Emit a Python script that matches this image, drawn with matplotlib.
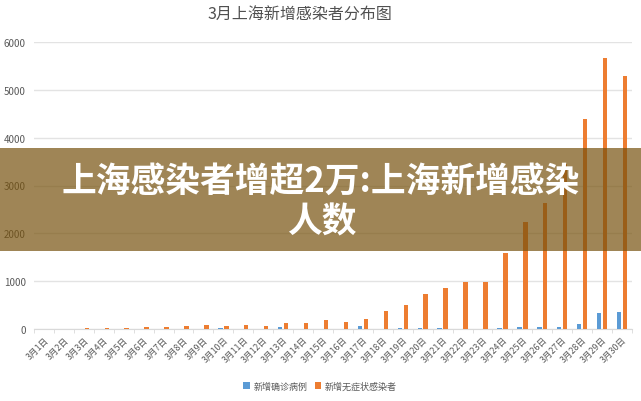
import matplotlib
matplotlib.use("Agg")
import matplotlib.pyplot as plt
from matplotlib.patches import Rectangle
import numpy as np

plt.rcParams['font.family'] = ['Noto Sans CJK SC', 'DejaVu Sans']

# data (3月1日 .. 3月30日)
days = ["3月%d日" % d for d in range(1, 31)]
confirmed = [1, 3, 2, 3, 0, 3, 4, 3, 4, 11, 5, 1, 41, 9, 5, 8, 57, 8, 17, 24,
             31, 4, 4, 29, 38, 45, 50, 96, 326, 355]
asymptomatic = [1, 5, 14, 16, 28, 45, 51, 62, 76, 64, 78, 64, 128, 130, 197, 150, 203, 366, 492, 734,
                865, 977, 979, 1580, 2231, 2631, 3450, 4381, 5656, 5298]
series_names = ["新增确诊病例", "新增无症状感染者"]
title = "3月上海新增感染者分布图"
banner_lines = ["上海感染者增超2万:上海新增感染", "人数"]

BLUE = "#5B9BD5"
ORANGE = "#ED7D31"
GREY = "#595959"

W, H = 641, 402
fig = plt.figure(figsize=(W / 100, H / 100), dpi=100)
ax = fig.add_axes([34 / W, 1 - 330 / H, (632 - 34) / W, (330 - 43) / H])

x = np.arange(len(days))
bw = 0.22
ax.bar(x - 0.15, confirmed, bw, color=BLUE, label=series_names[0], zorder=3)
ax.bar(x + 0.15, asymptomatic, bw, color=ORANGE, label=series_names[1], zorder=3)

ax.set_xlim(-0.5, len(days) - 0.5)
ax.set_ylim(0, 6000)
ax.set_yticks(range(0, 6001, 1000))
ax.yaxis.grid(True, color="#E3E3E3", linewidth=1, zorder=0)
ax.tick_params(axis='y', length=0, labelsize=7, labelcolor=GREY, pad=6)

ax.set_xticks(x)
ax.set_xticklabels(days, rotation=45, ha='right', va='top', rotation_mode='anchor',
                   fontsize=6.3, color=GREY)
ax.tick_params(axis='x', which='major', length=0, pad=4)
ax.set_xticks(np.arange(-0.5, len(days), 1), minor=True)
ax.tick_params(axis='x', which='minor', length=3, color="#D9D9D9")

for s in ['top', 'right', 'left']:
    ax.spines[s].set_visible(False)
ax.spines['bottom'].set_color("#D9D9D9")

fig.text(300 / W, 1 - 15 / H, title, ha='center', va='center', fontsize=11.5,
         fontweight='medium', color="#505050")

fig.legend(loc='center', bbox_to_anchor=(320 / W, 1 - 387 / H), ncol=2, frameon=False,
           fontsize=6.5, labelcolor=GREY, handlelength=0.7, handleheight=0.7,
           handletextpad=0.4, columnspacing=0.8)

# overlay banner
fig.patches.append(Rectangle((0, 1 - 252 / H), 1, 103 / H, transform=fig.transFigure,
                             facecolor="#77520E", alpha=0.7, zorder=10))
fig.text(321 / W, 1 - 181 / H, banner_lines[0], ha='center', va='center', fontsize=25,
         fontweight='black', color='white', zorder=11)
fig.text(322 / W, 1 - 222 / H, banner_lines[1], ha='center', va='center', fontsize=25,
         fontweight='black', color='white', zorder=11)

fig.savefig("out.png", dpi=100)
